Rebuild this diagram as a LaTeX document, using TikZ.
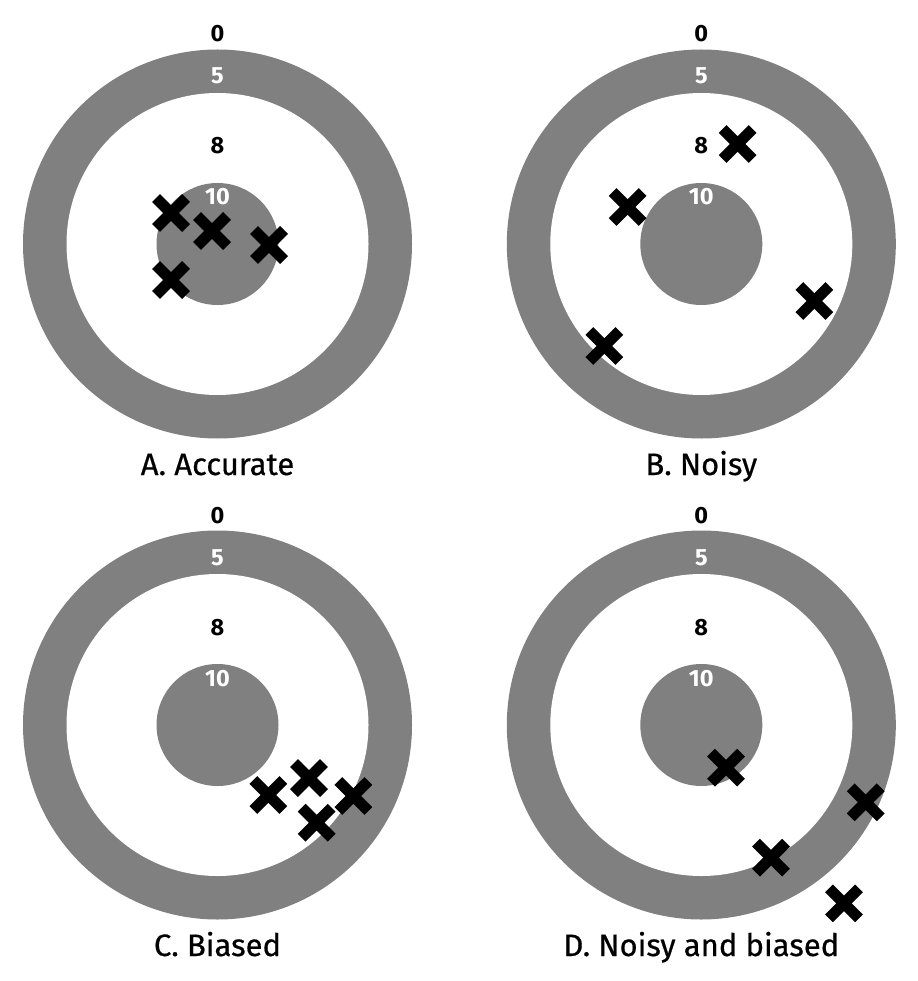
\documentclass[tikz,border=0pt]{standalone}
\usepackage{fontspec}
\setmainfont{Fira Sans}
\newfontfamily\capfont{Fira Sans}[FakeBold=0.6]
\usepackage{tikz}
\usetikzlibrary{positioning}
\definecolor{ringgray}{RGB}{128,128,128}

\begin{document}
\begin{tikzpicture}[
  x=1pt, y=-1pt,
  ring/.style={fill=ringgray},
  hole/.style={fill=white},
  score/.style={font=\fontsize{23.5}{23.5}\selectfont\bfseries, inner sep=0pt, anchor=base},
  inscore/.style={score, text=white},
  caption/.style={font=\capfont\fontsize{31}{31}\selectfont, inner sep=0pt, anchor=base},
  hit/.style={line width=11pt, black},
  cross/.pic={\draw[hit] (-15,-15) -- (15,15) (-15,15) -- (15,-15);}
]
\useasboundingbox[fill=white] (0,0) rectangle (917,981);

% four targets with their score labels
\foreach \t/\cx/\cy/\name in {A/217.5/244/A. Accurate, B/701.3/244/B. Noisy,
    C/217.5/725/C. Biased, D/701.3/725/D. Noisy and biased}{
  \coordinate (c\t) at (\cx,\cy);
  \fill[ring] (c\t) circle[radius=194.5pt];
  \fill[hole] (c\t) circle[radius=151pt];
  \fill[ring] (c\t) circle[radius=61pt];
  \node[score] (zero\t) at (\cx,{\cy-202}) {0};
  \node[inscore] (five\t) at (\cx,{\cy-160}) {5};
  \node[score] (eight\t) at (\cx,{\cy-90}) {8};
  \node[inscore] (ten\t) at (\cx,{\cy-39}) {10};
  \node[caption] (cap\t) at (\cx,{\cy+231}) {\name};
}

% shots
\foreach \p in {(171,213), (212,231), (269,245), (171,280)}
  \pic at \p {cross};
\foreach \p in {(737.7,144), (627.7,207), (814.3,301), (604.3,346)}
  \pic at \p {cross};
\foreach \p in {(268.3,795), (309,778), (353.3,796), (316.7,822.7)}
  \pic at \p {cross};
\foreach \p in {(726,767.7), (865.7,802.3), (771,857.7), (844,903.3)}
  \pic at \p {cross};
\end{tikzpicture}
\end{document}
